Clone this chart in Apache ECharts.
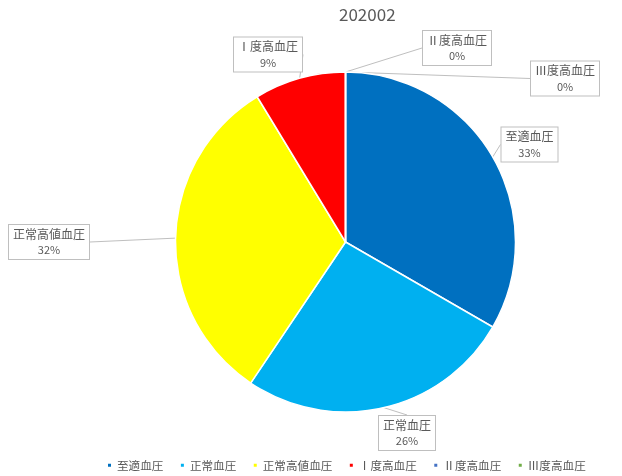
<!DOCTYPE html>
<html><head><meta charset="utf-8">
<script src="https://cdn.jsdelivr.net/npm/echarts@6/dist/echarts.min.js"></script>
<style>html,body{margin:0;padding:0;background:#fff}#c{width:622px;height:476px}</style>
</head><body><div id="c"></div>
<script>
const chartTitle = '202002';
const categories = ['至適血圧', '正常血圧', '正常高値血圧', 'Ⅰ度高血圧', 'Ⅱ度高血圧', 'Ⅲ度高血圧'];
const counts = [23, 18, 22, 6, 0, 0];
const colors = ['#0070C0', '#00B0F0', '#FFFF00', '#FF0000', '#4472C4', '#70AD47'];

// label box centres (layout only)
const labelCenters = [[529.5, 144.5], [407, 433], [49, 242], [268, 54.5], [457, 48], [565, 78.5]];

const FONT = '"Noto Sans CJK JP", "Noto Sans", sans-serif';
const chart = echarts.init(document.getElementById('c'));
chart.setOption({
  animation: false,
  backgroundColor: '#fff',
  title: {
    text: chartTitle, left: 339, top: 6, padding: 0,
    textStyle: { color: '#595959', fontSize: 17, fontWeight: 'normal', fontFamily: FONT }
  },
  legend: {
    bottom: 5, left: 106, padding: 0, itemGap: 15.5, itemWidth: 5, itemHeight: 5, icon: 'rect',
    data: categories,
    textStyle: { color: '#595959', fontSize: 11.6, fontFamily: FONT }
  },
  series: [{
    type: 'pie',
    center: [345.5, 242],
    radius: 170,
    startAngle: 90,
    clockwise: true,
    percentPrecision: 0,
    avoidLabelOverlap: false,
    data: categories.map((c, i) => ({ name: c, value: counts[i], itemStyle: { color: colors[i] } })),
    itemStyle: { borderColor: '#fff', borderWidth: 1.5 },
    label: {
      show: true, position: 'outside',
      formatter: '{n|{b}}\n{p|{d}%}',
      backgroundColor: '#fff', borderColor: '#BFBFBF', borderWidth: 1,
      padding: [1, 4, 1, 4],
      color: '#595959', fontFamily: FONT, align: 'center',
      rich: {
        n: { fontSize: 12, lineHeight: 16, color: '#595959', fontFamily: FONT, align: 'center' },
        p: { fontSize: 11, lineHeight: 16, color: '#595959', fontFamily: FONT, align: 'center' }
      }
    },
    labelLine: { show: true, length: 0, length2: 0, lineStyle: { color: '#BFBFBF', width: 1 } },
    labelLayout: function (p) {
      const c = labelCenters[p.dataIndex];
      return { x: c[0], y: c[1], align: 'center', verticalAlign: 'middle', hideOverlap: false };
    },
    emphasis: { disabled: true }
  }]
});
</script></body></html>
